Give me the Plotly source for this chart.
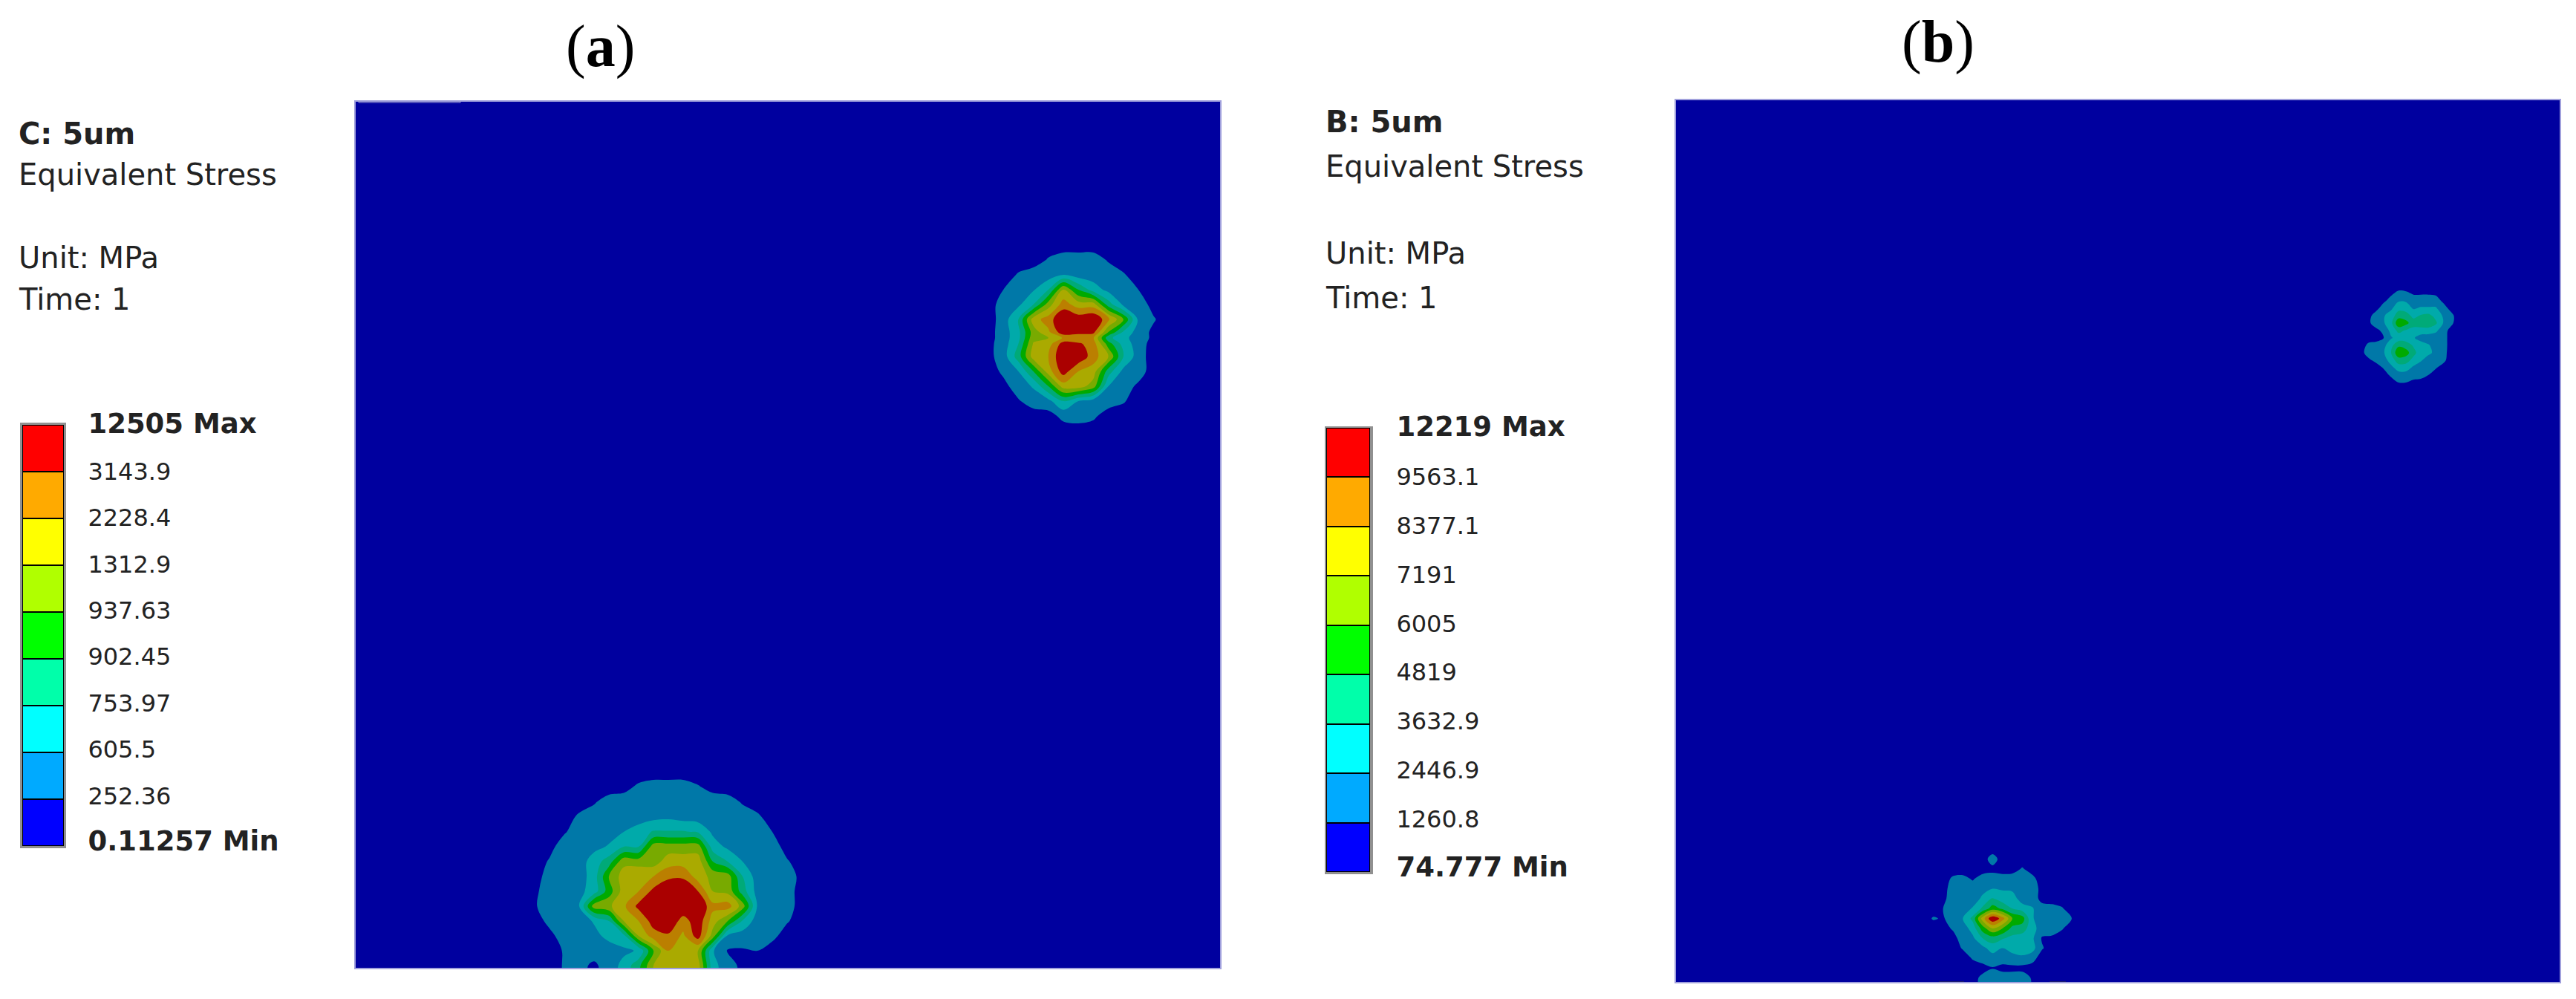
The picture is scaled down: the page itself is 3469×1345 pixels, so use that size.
import plotly.graph_objects as go

W = 3469
H = 1345

# colour bands, lowest first
legend_colors = ["#0000FF", "#00AAFF", "#00FFFF", "#00FFAA", "#00FF00",
                 "#B0FF00", "#FFFF00", "#FFAA00", "#FF0000"]
plate_colors = ["#00009F", "#0078A8", "#00AAAA", "#00AA78", "#00AA00",
                "#78AA00", "#AAAA00", "#BB7F00", "#AA0000"]

# legend labels, lowest first
a_labels = ["0.11257 Min", "252.36", "605.5", "753.97", "902.45",
            "937.63", "1312.9", "2228.4", "3143.9", "12505 Max"]
b_labels = ["74.777 Min", "1260.8", "2446.9", "3632.9", "4819",
            "6005", "7191", "8377.1", "9563.1", "12219 Max"]

# stress fields around each hot spot, as band numbers (0 = plate, 8 = red)
a_top_rows = [330, 350, 370, 390, 410, 430, 447, 455, 463, 480, 500, 520, 540, 560, 580]
a_top_z = [
    [0, 0, 0, 0, 0, 0, 0, 0, 0, 0, 0, 0, 0],
    [0, 0, 0, 0, .6, 1, 1, 1, .4, 0, 0, 0, 0],
    [0, 0, .6, 1, 1, 1.5, 1, 1, 1, .6, 0, 0, 0],
    [0, .5, 1, 1.4, 2.5, 5.5, 3.5, 2, 1.2, 1, .5, 0, 0],
    [0, 1, 1.3, 2.5, 5, 7, 6, 6, 3, 1.3, 1, .2, 0],
    [0, 1, 2.5, 6, 7, 8.5, 8.2, 8.5, 6.8, 4.5, 1.3, .6, 0],
    [.1, 1, 2.2, 5, 6.3, 8.2, 8, 7.8, 4.5, 2.4, 1, .3, 0],
    [.1, 1, 2.2, 5.2, 5.5, 6.6, 6.6, 6.6, 2.8, 1.8, 1, .3, 0],
    [.2, 1, 2.5, 5.6, 6, 8, 7.7, 7, 4, 2.1, 1, .1, 0],
    [.2, 1, 3, 6, 6.5, 8.5, 8.3, 7, 5.5, 2.5, 1, 0, 0],
    [0, .7, 1.5, 3.5, 6, 8, 6.5, 6, 3, 1.2, 1, 0, 0],
    [0, .2, 1, 1.6, 3.5, 6, 6, 5, 1.5, 1, .3, 0, 0],
    [0, 0, .4, 1, 1.2, 2.5, 1.5, 1, 1, .6, 0, 0, 0],
    [0, 0, 0, 0, .1, .8, 1, .7, 0, 0, 0, 0, 0],
    [0, 0, 0, 0, 0, 0, 0, 0, 0, 0, 0, 0, 0],
]
a_bottom_z = [
    [0, 0, 0, 0, 0, 0, 0, 0, 0, 0, 0, 0, 0, 0, 0, 0, 0, 0, 0],
    [0, 0, 0, 0, 0, 0, .2, .7, 1, 1, 1, .6, .2, 0, 0, 0, 0, 0, 0],
    [0, 0, 0, 0, .4, 1, 1, 1, 1, 1, 1, 1, 1, 1, .4, 0, 0, 0, 0],
    [0, 0, 0, .7, 1, 1, 1, 1, 1.2, 1.3, 1.1, 1, 1, 1, 1, .7, 0, 0, 0],
    [0, 0, .4, 1, 1, 1.1, 1.5, 2, 2.6, 2.6, 2.6, 2.4, 1.3, 1, 1, 1, .5, 0, 0],
    [0, .2, 1, 1, 1.2, 1.6, 2.5, 2.5, 5, 5, 5, 5, 2, 1.3, 1, 1, 1, .1, 0],
    [0, .6, 1, 1, 2, 3, 5.2, 5, 5, 6, 6, 6, 3.5, 2.5, 1.5, 1, 1, .6, 0],
    [0, 1, 1, 1, 2, 4.5, 6, 6.5, 6.5, 7.3, 7.4, 6, 5.2, 5, 2.5, 1, 1, 1, .2],
    [.3, 1, 1, 1.2, 2, 4, 6, 6.5, 7.8, 8.3, 8, 7.5, 5.5, 5.2, 3, 1.1, 1, 1, 0],
    [.4, 1, 1, 1.5, 5, 5.3, 6.3, 7.8, 8.5, 8.5, 8.5, 8.5, 6.8, 7, 5, 1.4, 1, 1, 0],
    [0, .8, 1, 1, 1.6, 2.5, 5.5, 6.5, 8, 8.5, 7, 8.2, 6, 4.5, 2.4, 1, 1, .6, 0],
    [0, .2, 1, 1, 1.2, 1.8, 2.2, 5.5, 7, 7.3, 6.3, 8, 5, 1.3, 1, 1, .8, 0, 0],
    [0, 0, .6, 1, 1, 1, 1.3, 1.6, 4.5, 6.5, 6.5, 5.5, 1.6, .4, .4, .5, 0, 0, 0],
    [0, 0, .6, .8, .3, 1, 1.8, 3.2, 5.5, 6.5, 6.5, 6, 1.8, 1, .2, 0, 0, 0, 0],
    [0, 0, .6, .8, .3, 1, 1.8, 3.2, 5.5, 6.5, 6.5, 6, 1.8, 1, .2, 0, 0, 0, 0],
]
b_top_z = [
    [0, 0, 0, 0, 0, 0, 0, 0, 0, 0, 0, 0, 0, 0],
    [0, 0, 0, 0, .3, .8, .7, .4, .4, .4, .3, 0, 0, 0],
    [0, 0, 0, .3, .9, 1.4, 1.4, 1, 1, 1, 1, .3, 0, 0],
    [0, 0, .2, 1, 1.3, 2.2, 2, 1.4, 1.6, 1.6, 1.6, 1, .2, 0],
    [0, .2, 1, 1.4, 2, 3, 3, 2.2, 2.6, 2.8, 2.2, 1.4, .9, 0],
    [0, .3, 1.1, 1.4, 2.2, 4.3, 3.8, 3, 3.2, 3.3, 2.7, 1.5, .8, 0],
    [0, 0, .2, .8, 1.8, 2.8, 2.4, 2.1, 2, 2, 1.7, 1, .2, 0],
    [0, 0, 0, .5, 1.4, 1.9, 2, 1.6, 1.1, 1, 1, 1, .1, 0],
    [0, .8, 1, 1.2, 2.2, 3.3, 3, 2.4, 2, 1.6, 1.1, 1, .1, 0],
    [.2, 1, 1, 1.4, 2.5, 4.3, 4, 2.8, 2, 1.7, 1.3, 1, 0, 0],
    [0, .3, .8, 1, 2, 3, 2.9, 2.2, 1.6, 1.1, 1, .8, 0, 0],
    [0, 0, 0, .6, 1.2, 2, 2, 1.3, 1, 1, .6, .1, 0, 0],
    [0, 0, 0, 0, .7, 1, 1, 1, 1, .5, 0, 0, 0, 0],
    [0, 0, 0, 0, 0, .5, .5, .2, 0, 0, 0, 0, 0, 0],
    [0, 0, 0, 0, 0, 0, 0, 0, 0, 0, 0, 0, 0, 0],
]
b_bottom_z = [
    [0, 0, 0, 0, 0, 0, 0, 0, 0, 0, 0, 0, 0, 0, 0, 0, 0],
    [0, 0, 0, 0, 0, 0, 0, 1, 0, 0, 0, 0, 0, 0, 0, 0, 0],
    [0, 0, 0, 0, 0, 0, 0, .2, 0, .1, .6, .1, 0, 0, 0, 0, 0],
    [0, 0, 0, .7, .8, .4, 1, 1, 1, 1, 1, .8, 0, 0, 0, 0, 0],
    [0, 0, .1, 1, 1, 1, 1.2, 1.5, 1.4, 1.3, 1, 1, .2, 0, 0, 0, 0],
    [0, 0, .3, .9, 1, 1, 1.7, 2.6, 2, 2, 1, 1, .2, 0, 0, 0, 0],
    [0, 0, .5, .8, 1, 1.6, 2.7, 4, 3.3, 2.5, 2, 1.6, .9, .9, .6, 0, 0],
    [0, .6, .4, 1, 1.5, 2.8, 6, 8.5, 7, 4.5, 4, 1.6, 1, 1, 1, .5, 0],
    [0, 0, .2, .6, 1, 1.9, 4, 5.5, 4.5, 3.2, 3, 1.9, 1, 1, .6, 0, 0],
    [0, 0, 0, .2, .9, 1.3, 2.5, 3, 2.6, 2.2, 2, 1.7, .4, .3, 0, 0, 0],
    [0, 0, 0, 0, .6, 1, 1.2, 2, 1.5, 1.7, 2, 1.9, .6, 0, 0, 0, 0],
    [0, 0, 0, 0, 0, .6, 1, 1, 1, 1.3, 1.3, .9, 0, 0, 0, 0, 0],
    [0, 0, 0, 0, 0, 0, .1, .45, .2, .2, .2, .1, 0, 0, 0, 0, 0],
    [0, 0, 0, 0, 0, .1, .8, 1, 1, 1, 1, .4, 0, 0, 0, 0, 0],
    [0, 0, 0, 0, 0, .1, .8, 1, 1, 1, 1, .4, 0, 0, 0, 0, 0],
]

FONT = "DejaVu Sans, sans-serif"
TEXT_SIZE = 40
TICK_SIZE = 32
BOLD_SIZE = 37


def dom_x(left, right):
    return [left / W, right / W]


def dom_y(top, bottom):
    return [1 - bottom / H, 1 - top / H]


def hot_spot(z, x0, dx, rows, xa, ya):
    return go.Contour(
        z=z, x=[x0 + dx * i for i in range(len(z[0]))], y=rows, xaxis=xa, yaxis=ya,
        autocontour=False,
        contours=dict(start=0.5, end=7.5, size=1, coloring="fill", showlines=False),
        colorscale=[[i / 8, c] for i, c in enumerate(plate_colors)],
        line=dict(width=0),
        showscale=False,
        hoverinfo="skip",
    )


def even_rows(y0, dy, n):
    return [y0 + dy * i for i in range(n)]


fig = go.Figure()
fig.add_trace(hot_spot(a_top_z, 1331, 20.2, a_top_rows, "x", "y"))
fig.add_trace(hot_spot(a_bottom_z, 720, 20, even_rows(1040, 20, len(a_bottom_z)), "x", "y"))
fig.add_trace(hot_spot(b_top_z, 3180, 10, even_rows(385, 10, len(b_top_z)), "x3", "y3"))
fig.add_trace(hot_spot(b_bottom_z, 2590, 13.33, even_rows(1143.3, 13.33, len(b_bottom_z)), "x3", "y3"))

# legend colour boxes
for xa, ya in (("x2", "y2"), ("x4", "y4")):
    for c in legend_colors:
        fig.add_trace(
            go.Bar(
                x=[0], y=[1], xaxis=xa, yaxis=ya, width=1,
                marker=dict(color=c, line=dict(color="#000000", width=2)),
                showlegend=False, hoverinfo="skip",
            )
        )


def plate_axes(left, right, top, bottom, other_x, other_y):
    edge = dict(visible=True, showline=True, mirror=True, linecolor="#A0A0DC", linewidth=2,
                showgrid=False, zeroline=False, ticks="", showticklabels=False, automargin=False)
    return (
        dict(domain=dom_x(left, right), range=[left, right], anchor=other_y, **edge),
        dict(domain=dom_y(top, bottom), range=[bottom, top], anchor=other_x, **edge),
    )


def legend_axes(left, right, top, bottom, labels, other_x, other_y, gap):
    # first and last labels are the bold Min / Max ones
    shown = list(labels)
    for i in (0, len(shown) - 1):
        shown[i] = f'<b style="font-size:{BOLD_SIZE}px">{shown[i]}</b>'
    return (
        dict(domain=dom_x(left, right), range=[-0.5, 0.5], visible=False, anchor=other_y, automargin=False),
        dict(
            domain=dom_y(top, bottom), range=[0, 9], side="right", anchor=other_x,
            tickvals=[i + 0.08 * (1 - i / 9) for i in range(10)], ticktext=shown,
            ticks="outside", ticklen=gap, tickcolor="rgba(0,0,0,0)",
            showgrid=False, zeroline=False, showline=False, automargin=False,
            tickfont=dict(family=FONT, size=TICK_SIZE, color="#222222"),
        ),
    )


xa1, ya1 = plate_axes(479, 1643, 137, 1303, "x", "y")
xa3, ya3 = plate_axes(2257, 3447, 135, 1322, "x3", "y3")
xa2, ya2 = legend_axes(30, 86, 572, 1139, a_labels, "x2", "y2", 25)
xa4, ya4 = legend_axes(1786, 1845, 576, 1174, b_labels, "x4", "y4", 28)

# text blocks beside each plate
text_blocks = [
    ("<b>C: 5um</b>", 23, 180), ("Equivalent Stress", 23, 235), ("Unit: MPa", 23, 347), ("Time: 1", 23, 403),
    ("<b>B: 5um</b>", 1783, 164), ("Equivalent Stress", 1783, 224), ("Unit: MPa", 1783, 341), ("Time: 1", 1783, 401),
]
annotations = [
    dict(text=t, x=px / W, y=1 - py / H, xref="paper", yref="paper", xanchor="left", yanchor="middle",
         showarrow=False, font=dict(family=FONT, size=TEXT_SIZE, color="#222222"))
    for t, px, py in text_blocks
]
for t, px, py in (("(<b>a</b>)", 808, 63), ("(<b>b</b>)", 2610, 56)):
    annotations.append(
        dict(text=t, x=px / W, y=1 - py / H, xref="paper", yref="paper", xanchor="center", yanchor="middle",
             showarrow=False, font=dict(family="Liberation Serif, serif", size=80, color="#000000"))
    )


def shadow(x0, x1, y0, y1):
    return dict(type="rect", xref="paper", yref="paper", x0=x0 / W, x1=x1 / W, y0=1 - y0 / H, y1=1 - y1 / H,
                layer="below", fillcolor="#909090", line=dict(width=0))


shapes = [
    # gray edge around the legend boxes
    shadow(27, 89, 569, 1142),
    shadow(1784, 1849, 574, 1177),
    # small raised strips on the plate edges
    dict(type="rect", xref="x", yref="y", x0=483, x1=620, y0=131, y1=138, layer="above",
         fillcolor="#000088", line=dict(width=1, color="#A0A0DC")),
    dict(type="rect", xref="x3", yref="y3", x0=2611, x1=2645, y0=1321, y1=1325, layer="above",
         fillcolor="#1C1C70", line=dict(width=0)),
    dict(type="rect", xref="x3", yref="y3", x0=2760, x1=2782, y0=1321, y1=1325, layer="above",
         fillcolor="#1C1C70", line=dict(width=0)),
]

fig.update_layout(
    template="none",
    width=W, height=H, autosize=False,
    margin=dict(l=0, r=0, t=0, b=0),
    paper_bgcolor="#FFFFFF", plot_bgcolor=plate_colors[0],
    barmode="stack", bargap=0, showlegend=False,
    xaxis=xa1, yaxis=ya1, xaxis2=xa2, yaxis2=ya2,
    xaxis3=xa3, yaxis3=ya3, xaxis4=xa4, yaxis4=ya4,
    annotations=annotations, shapes=shapes,
)
fig.write_html("out.html", config={"displayModeBar": False}, post_script="document.body.style.margin='0';")
